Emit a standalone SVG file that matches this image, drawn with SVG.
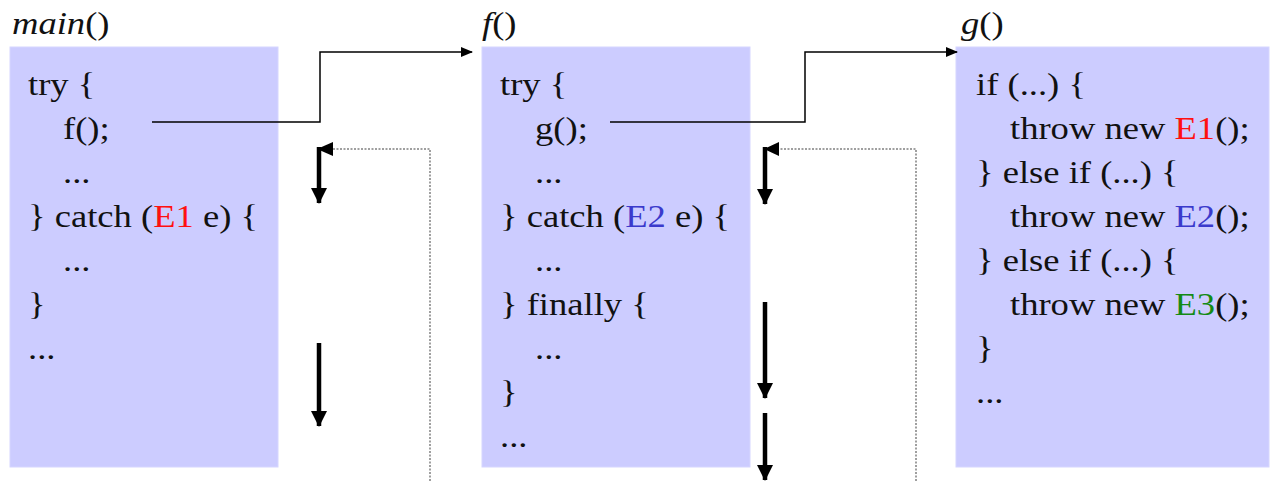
<svg xmlns="http://www.w3.org/2000/svg" width="1282" height="481" viewBox="0 0 1282 481">
<style>
.box{fill:#ccccff;stroke:#d6d6ff;stroke-width:1}
.c{font-family:"Liberation Serif","Times New Roman",serif;font-size:31px;fill:#111}
.t{font-family:"Liberation Serif","Times New Roman",serif;font-size:31px;fill:#111}
.i{font-style:italic}
.e1{fill:#ff1010}
.e2{fill:#3a3acc}
.e3{fill:#148a14}
.call{fill:none;stroke:#000;stroke-width:1.5}
.ret{fill:none;stroke:#808080;stroke-width:1.5;stroke-dasharray:2 1.5}
.flow{fill:none;stroke:#000;stroke-width:4.5}
</style>
<defs>
<marker id="ah" markerWidth="12" markerHeight="10" refX="11" refY="5" orient="auto" markerUnits="userSpaceOnUse">
<path d="M0,0 L12,5 L0,10 Z" fill="#000"/>
</marker>
<marker id="big" markerWidth="16" markerHeight="16" refX="15" refY="8" orient="auto" markerUnits="userSpaceOnUse">
<path d="M0,0 L16,8 L0,16 Z" fill="#000"/>
</marker>
</defs>

<g id="main">
<text class="t" transform="translate(12,34) scale(1.18,1)"><tspan class="i">main</tspan>()</text>
<rect class="box" x="10" y="47" width="268" height="420"/>
<text class="c" transform="translate(28,95) scale(1.18,1)">try {</text>
<text class="c" transform="translate(63,139) scale(1.18,1)">f();</text>
<text class="c" transform="translate(63,183) scale(1.18,1)">...</text>
<text class="c" transform="translate(28,227) scale(1.18,1)">} catch (<tspan class="e1">E1</tspan> e) {</text>
<text class="c" transform="translate(63,271) scale(1.18,1)">...</text>
<text class="c" transform="translate(28,315) scale(1.18,1)">}</text>
<text class="c" transform="translate(28,359) scale(1.18,1)">...</text>
</g>

<g id="f">
<text class="t" transform="translate(482,34) scale(1.18,1)"><tspan class="i">f</tspan>()</text>
<rect class="box" x="482" y="47" width="268" height="420"/>
<text class="c" transform="translate(500,95) scale(1.18,1)">try {</text>
<text class="c" transform="translate(535,139) scale(1.18,1)">g();</text>
<text class="c" transform="translate(535,183) scale(1.18,1)">...</text>
<text class="c" transform="translate(500,227) scale(1.18,1)">} catch (<tspan class="e2">E2</tspan> e) {</text>
<text class="c" transform="translate(535,271) scale(1.18,1)">...</text>
<text class="c" transform="translate(500,315) scale(1.18,1)">} finally {</text>
<text class="c" transform="translate(535,359) scale(1.18,1)">...</text>
<text class="c" transform="translate(500,403) scale(1.18,1)">}</text>
<text class="c" transform="translate(500,447) scale(1.18,1)">...</text>
</g>

<g id="g">
<text class="t" transform="translate(961,34) scale(1.18,1)"><tspan class="i">g</tspan>()</text>
<rect class="box" x="956" y="47" width="313" height="420"/>
<text class="c" transform="translate(976,95) scale(1.18,1)">if (...) {</text>
<text class="c" transform="translate(1010,139) scale(1.18,1)">throw new <tspan class="e1">E1</tspan>();</text>
<text class="c" transform="translate(976,183) scale(1.18,1)">} else if (...) {</text>
<text class="c" transform="translate(1010,227) scale(1.18,1)">throw new <tspan class="e2">E2</tspan>();</text>
<text class="c" transform="translate(976,271) scale(1.18,1)">} else if (...) {</text>
<text class="c" transform="translate(1010,315) scale(1.18,1)">throw new <tspan class="e3">E3</tspan>();</text>
<text class="c" transform="translate(976,359) scale(1.18,1)">}</text>
<text class="c" transform="translate(976,403) scale(1.18,1)">...</text>
</g>

<g id="connectors">
<polyline class="call" points="152,122 320,122 320,52 472,52" marker-end="url(#ah)"/>
<polyline class="call" points="610,122 805,122 805,52 957,52" marker-end="url(#ah)"/>
<polyline class="ret" points="430,481 430,149 330,149"/>
<path d="M317,149 L333,142 L333,156 Z" fill="#000"/>
<polyline class="ret" points="916,481 916,149 776,149"/>
<path d="M764,149 L779,142 L779,156 Z" fill="#000"/>
<line class="flow" x1="319" y1="147" x2="319" y2="203" marker-end="url(#big)"/>
<line class="flow" x1="319" y1="343" x2="319" y2="426" marker-end="url(#big)"/>
<line class="flow" x1="765" y1="147" x2="765" y2="204" marker-end="url(#big)"/>
<line class="flow" x1="765" y1="302" x2="765" y2="398" marker-end="url(#big)"/>
<line class="flow" x1="765" y1="413" x2="765" y2="480" marker-end="url(#big)"/>
</g>
</svg>
